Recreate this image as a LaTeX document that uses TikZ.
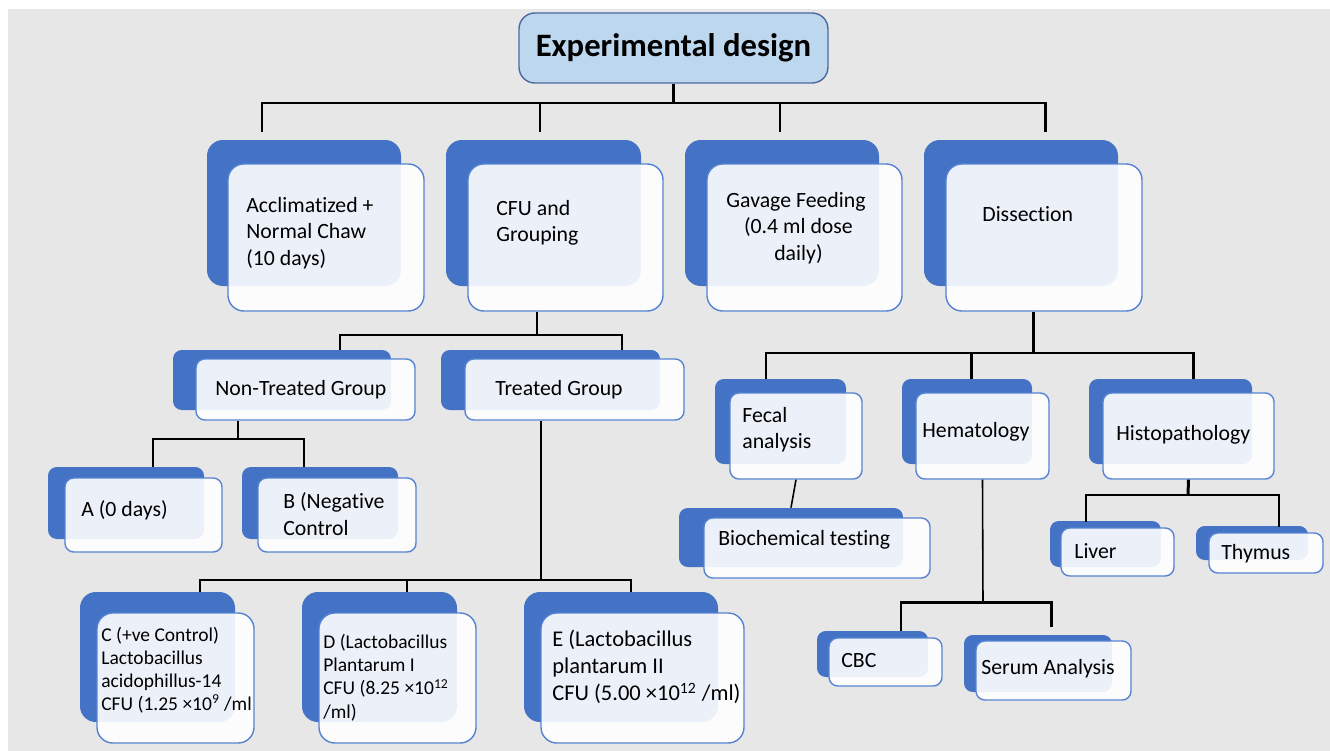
\documentclass[tikz,border=0pt]{standalone}
\usepackage{fontspec}
\setmainfont{Carlito}[Ligatures=NoCommon]
\usetikzlibrary{fit,positioning}
\definecolor{boxblue}{RGB}{68,114,196}
\definecolor{edgeblue}{RGB}{86,132,212}
\definecolor{titlefill}{RGB}{189,215,238}
\definecolor{titleedge}{RGB}{74,106,160}
\definecolor{bggray}{RGB}{231,231,231}

\begin{document}
\begin{tikzpicture}[
  x=0.02cm, y=-0.02cm,
  back/.style={fill=boxblue, rounded corners=5pt, inner sep=0pt},
  front/.style={draw=edgeblue, line width=0.8pt, fill=white, fill opacity=0.9, rounded corners=5pt, inner sep=0pt},
  big/.style={rounded corners=9pt},
  txt/.style={font=\fontsize{12.4}{15}\selectfont, align=left, anchor=west, inner sep=0pt, yshift=-1.2pt},
  small/.style={font=\fontsize{11.1}{13.2}\selectfont},
  large/.style={font=\fontsize{12.8}{15.4}\selectfont},
  bar/.style={line width=1.7pt},
  midl/.style={line width=1.3pt},
  thinl/.style={line width=0.9pt},
]
\useasboundingbox (0,0) rectangle (1330,751);
\fill[bggray] (8,9) rectangle (1330,751);
% title
\node[draw=titleedge, fill=titlefill, rounded corners=9pt, line width=0.8pt, minimum width=6.18cm, minimum height=1.4cm, font=\fontsize{18.6}{22}\selectfont\bfseries] (title) at (673.5,48) {Experimental design};
% first row
\node[back, big, fit={(207,140) (401,286)}] (acc-b) {};
\node[front, big, fit={(228,164) (424,311)}] (acc) {};
\node[txt] (acc-t) at (246,231) {Acclimatized +\\Normal Chaw\\(10 days)};
\node[back, big, fit={(446,140) (641,286)}] (cfu-b) {};
\node[front, big, fit={(468,164) (663,311)}] (cfu) {};
\node[txt] (cfu-t) at (496,220.5) {CFU and\\Grouping};
\node[back, big, fit={(685,140) (879,286)}] (gav-b) {};
\node[front, big, fit={(707,164) (902,311)}] (gav) {};
\node[txt, anchor=center, align=center] (gav-t) at (796,226) {Gavage Feeding\\ \ (0.4 ml dose\\ \ daily)};
\node[back, big, fit={(924,140) (1118,286)}] (dis-b) {};
\node[front, big, fit={(946,164) (1142,311)}] (dis) {};
\node[txt] (dis-t) at (982,212) {Dissection};
% groups
\node[back, fit={(173,350) (391,410)}] (nt-b) {};
\node[front, fit={(196,359) (415,420)}] (nt) {};
\node[txt] (nt-t) at (215,388) {Non-Treated Group};
\node[back, fit={(441,350) (660,410)}] (tr-b) {};
\node[front, fit={(465,359) (684,420)}] (tr) {};
\node[txt] (tr-t) at (495,388) {Treated Group};
\node[back, fit={(48,467) (204,539)}] (ga-b) {};
\node[front, fit={(65,478) (222,552)}] (ga) {};
\node[txt] (ga-t) at (81,508) {A (0 days)};
\node[back, fit={(242,467) (398,539)}] (gb-b) {};
\node[front, fit={(258,478) (416,552)}] (gb) {};
\node[txt] (gb-t) at (283,512) {B (Negative\\Control};
\node[back, big, fit={(80,592) (235,722)}] (gc-b) {};
\node[front, big, fit={(97,613) (254,743)}] (gc) {};
\node[txt, small] (gc-t) at (101,668) {C (+ve Control)\\Lactobacillus\\acidophillus-14\\CFU (1.25 ×10\textsuperscript{9} /ml};
\node[back, big, fit={(302,592) (457,722)}] (gd-b) {};
\node[front, big, fit={(319,613) (476,743)}] (gd) {};
\node[txt, small] (gd-t) at (323,675.5) {D (Lactobacillus\\Plantarum I\\CFU (8.25 ×10\textsuperscript{12}\\/ml)};
\node[back, big, fit={(524,592) (718,722)}] (ge-b) {};
\node[front, big, fit={(541,613) (744,743)}] (ge) {};
\node[txt, large] (ge-t) at (552,665) {E (Lactobacillus\\plantarum II\\CFU (5.00 ×10\textsuperscript{12} /ml)};
% dissection branches
\node[back, fit={(715,379) (846,464)}] (fec-b) {};
\node[front, fit={(730,393) (862,479)}] (fec) {};
\node[txt] (fec-t) at (742,427.5) {Fecal\\analysis};
\node[back, fit={(902,379) (1032,464)}] (hem-b) {};
\node[front, fit={(916,393) (1049,479)}] (hem) {};
\node[txt] (hem-t) at (922,430) {Hematology};
\node[back, fit={(1089,379) (1252,464)}] (his-b) {};
\node[front, fit={(1103,393) (1274,479)}] (his) {};
\node[txt] (his-t) at (1116,433) {Histopathology};
\node[back, fit={(679,508) (903,567)}] (bio-b) {};
\node[front, fit={(704,518) (930,578)}] (bio) {};
\node[txt] (bio-t) at (718,538) {Biochemical testing};
\node[back, fit={(1050,521) (1161,567)}] (liv-b) {};
\node[front, fit={(1061,528) (1174,576)}] (liv) {};
\node[txt] (liv-t) at (1074,549) {Liver};
\node[back, fit={(1196,526) (1308,560)}] (thy-b) {};
\node[front, fit={(1209,533) (1323,573)}] (thy) {};
\node[txt] (thy-t) at (1221,552) {Thymus};
\node[back, fit={(817,631) (928,677)}] (cbc-b) {};
\node[front, fit={(829,638) (942,686)}] (cbc) {};
\node[txt] (cbc-t) at (841,658) {CBC};
\node[back, fit={(964,635) (1112,692)}] (ser-b) {};
\node[front, fit={(976,641) (1131,700)}] (ser) {};
\node[txt] (ser-t) at (981,667) {Serum Analysis};
% junctions and drop ends
\coordinate (t0) at (673.5,103);
\coordinate (d1) at (262,132); \coordinate (d2) at (540,132);
\coordinate (d3) at (780,132); \coordinate (d4) at (1045,132);
\coordinate (c0) at (537,335);
\coordinate (nt-d) at (340,350); \coordinate (tr-d) at (622,350);
\coordinate (n0) at (238,439);
\coordinate (ga-d) at (153,467); \coordinate (gb-d) at (304,467);
\coordinate (e0) at (541,580);
\coordinate (gc-d) at (200,592); \coordinate (gd-d) at (407,592); \coordinate (ge-d) at (631,592);
\coordinate (s0) at (1033,353);
\coordinate (fec-d) at (766,379); \coordinate (hem-d) at (971,379); \coordinate (his-d) at (1193,379);
\coordinate (h0) at (983,602);
\coordinate (cbc-d) at (901,631); \coordinate (ser-d) at (1051,627);
\coordinate (p0) at (1188,495);
\coordinate (liv-d) at (1086,522); \coordinate (thy-d) at (1279,527);
% connectors
\draw[bar] (title.south) -- (t0);
\foreach \d in {d1,d2,d3,d4} \draw[bar] (t0) -| (\d);
\draw[bar] (c0 |- cfu.south) -- (c0);
\foreach \d in {nt-d,tr-d} \draw[bar] (c0) -| (\d);
\draw[bar] (n0 |- nt.south) -- (n0);
\foreach \d in {ga-d,gb-d} \draw[bar] (n0) -| (\d);
\draw[thinl] (e0 |- tr.south) -- (e0);
\foreach \d in {gc-d,gd-d,ge-d} \draw[midl] (e0) -| (\d);
\draw[bar] (s0 |- dis.south) -- (s0);
\foreach \d in {fec-d,hem-d,his-d} \draw[bar] (s0) -| (\d);
\draw[thinl] (fec.south) -- (bio-b.north);
\draw[thinl] (hem.south) -- (h0);
\foreach \d in {cbc-d,ser-d} \draw[bar] (h0) -| (\d);
\draw[bar] (his.south) -- (p0);
\foreach \d in {liv-d,thy-d} \draw[midl] (p0) -| (\d);
\end{tikzpicture}
\end{document}
